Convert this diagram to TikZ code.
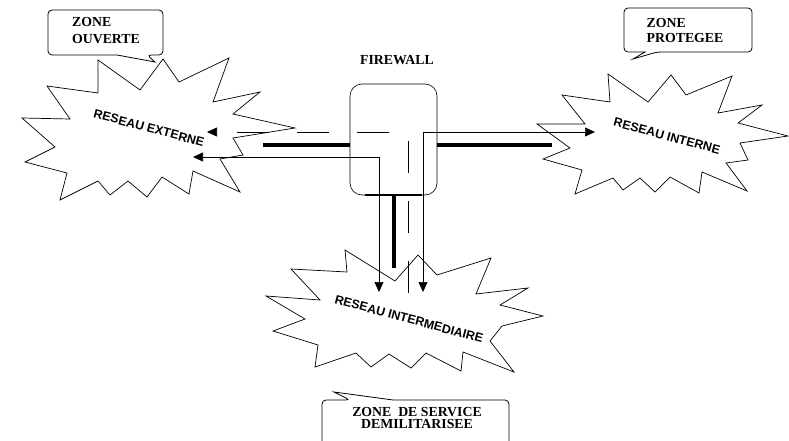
\documentclass[tikz,border=0pt]{standalone}
\usepackage{fontspec}
\setmainfont{Liberation Serif}[BoldFont={Liberation Serif Bold}]
\newfontfamily\netfont{Liberation Sans}[BoldFont={Liberation Sans Bold}]
\usetikzlibrary{arrows.meta, calc}

\begin{document}
\begin{tikzpicture}[x=1pt, y=-1pt, >={Triangle[length=10pt, width=9pt]},
  every node/.style={inner sep=0pt},
  zonelbl/.style={font=\fontsize{13.8}{17}\selectfont\bfseries, align=left},
  netlbl/.style={font=\netfont\fontsize{12.4}{14}\selectfont\bfseries, rotate=-15},
  cloud/.style={line width=0.7pt},
  bubble/.style={line width=0.8pt, rounded corners=4pt},
  trunk/.style={line width=4pt},
  flow/.style={line width=0.6pt},
  flowdash/.style={line width=0.6pt, dash pattern=on 32pt off 28pt}]
  \useasboundingbox (0,0) rectangle (789,441);

  % clouds
  \draw[cloud] (98,60) -- (140,90) -- (163,59) -- (179,82) -- (229,58) -- (213,102) -- (260,92) -- (233,114) -- (295,128) -- (233,138) -- (243,155) -- (220,159) -- (240,192) -- (193,171) -- (189,194) -- (162,177) -- (147,197) -- (128,181) -- (110,195) -- (98,181) -- (60,200) -- (67,173) -- (25,162) -- (55,147) -- (22,118) -- (70,119) -- (47,86) -- (98,93) -- cycle;
  \draw[cloud] (608,74) -- (648,102) -- (671,75) -- (686,95) -- (732,76) -- (718,113) -- (762,105) -- (738,123) -- (788,136) -- (740,143) -- (748,160) -- (726,163) -- (747,191) -- (702,172) -- (699,193) -- (670,177) -- (655,192) -- (640,178) -- (623,190) -- (613,178) -- (575,194) -- (582,170) -- (543,159) -- (570,148) -- (537,124) -- (585,124) -- (562,95) -- (610,102) -- cycle;
  \draw[cloud] (345,250) -- (395,281) -- (418,255) -- (437,275) -- (491,258) -- (476,294) -- (528,288) -- (500,305) -- (543,316) -- (502,326) -- (490,341) -- (514,372) -- (463,352) -- (461,371) -- (426,353) -- (411,368) -- (389,354) -- (371,367) -- (356,353) -- (315,367) -- (318,345) -- (273,331) -- (305,319) -- (266,296) -- (320,300) -- (291,269) -- (347,272) -- cycle;

  \node[netlbl] (ext) at (149,128) {RESEAU EXTERNE};
  \node[netlbl] (int) at (667,136) {RESEAU INTERNE};
  \node[netlbl] (dmz) at (409,319) {RESEAU INTERMEDIAIRE};

  % callouts
  \draw[bubble] (48,10) -- (163,10) -- (163,55) -- (147,55) [sharp corners] -- (155,62) -- (117,55) [rounded corners=4pt] -- (48,55) -- cycle;
  \draw[bubble] (624,8) -- (752,8) -- (752,52) -- (657,52) [sharp corners] -- (633,59) -- (645,52) [rounded corners=4pt] -- (624,52) -- cycle;
  \draw[bubble] (322,445) -- (322,400) -- (350,400) [sharp corners] -- (334,392) -- (393,400) [rounded corners=4pt] -- (509,400) -- (509,445);
  \node[zonelbl] (ouverte) at (106,31) {ZONE\\OUVERTE};
  \node[zonelbl, font=\fontsize{13.8}{15}\selectfont\bfseries] (protegee) at (685,31) {ZONE\\PROTEGEE};
  \node[zonelbl, align=center, font=\fontsize{13.8}{12}\selectfont\bfseries] (demil) at (417,417.5) {ZONE~~DE SERVICE\\DEMILITARISEE};

  % firewall
  \node[draw, line width=0.6pt, rounded corners=12pt, minimum width=87pt, minimum height=111pt] (fw) at (393.5,139.5) {};
  \node[zonelbl] (fwlbl) at (397,60.5) {FIREWALL};

  \coordinate (extT) at (263,145);
  \coordinate (intT) at (552,145);
  \coordinate (dmzT) at (394,268);
  \draw[trunk] (extT) -- (extT -| fw.west);
  \draw[trunk] (intT -| fw.east) -- (intT);
  \draw[trunk] (dmzT |- fw.south) -- (dmzT);
  \draw[line width=2pt] ([xshift=-28.5pt]fw.south) -- ([xshift=28.5pt]fw.south);

  \coordinate (intA) at (595,132);
  \coordinate (dmzA) at (423,292);
  \coordinate (extA) at (193,157);
  \coordinate (dmzB) at (379,292);
  \coordinate (extB) at (207,132);
  \coordinate (dmzC) at (408,293);
  \draw[flow, <->] (intA) -- (intA -| dmzA) -- (dmzA);
  \draw[flow, <->] (extA) -- (extA -| dmzB) -- (dmzB);
  \draw[flowdash, ->] (dmzC) -- (dmzC |- extB) -- (extB);
\end{tikzpicture}
\end{document}
